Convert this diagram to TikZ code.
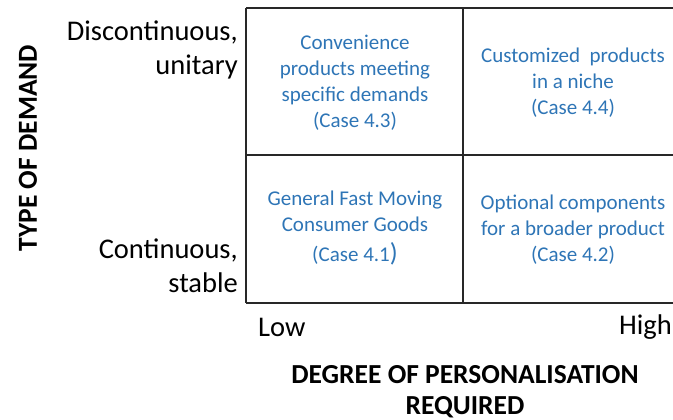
\documentclass[tikz,border=0pt]{standalone}
\usepackage{fontspec}
\setmainfont{Carlito}
\definecolor{cellblue}{RGB}{46,117,182}
\definecolor{gridline}{RGB}{40,40,40}
\begin{document}
\begin{tikzpicture}[x=1pt,y=-1pt,
  cell/.style={text=cellblue, font=\fontsize{21}{26}\selectfont, align=center, inner sep=0pt},
  side/.style={font=\fontsize{28.5}{34}\selectfont, align=right, inner sep=0pt},
  axis/.style={font=\bfseries\fontsize{27.5}{31}\selectfont, align=center, inner sep=0pt},
  gridl/.style={line width=1.5pt, draw=gridline}]
\useasboundingbox (0,0) rectangle (673,420);
\coordinate (a1) at (246,8);   \coordinate (a2) at (463,8);   \coordinate (a3) at (673,8);
\coordinate (b1) at (246,155); \coordinate (b2) at (463,155); \coordinate (b3) at (673,155);
\coordinate (c1) at (246,303); \coordinate (c2) at (463,303); \coordinate (c3) at (673,303);
\draw[gridl] (a1) -- (a3);
\draw[gridl] (b1) -- (b3);
\draw[gridl] (c1) -- (c3);
\draw[gridl] (a1) -- (c1);
\draw[gridl] (a2) -- (c2);
\node[cell] (q3) at (355,83) {Convenience\\products meeting\\specific demands\\(Case 4.3)};
\node[cell] (q4) at (573,83) {Customized\ \ products\\in a niche\\(Case 4.4)};
\node[cell] (q1) at (355,228) {General\ Fast Moving\\Consumer\ Goods\\[4pt](Case 4.1{\fontsize{26}{26}\selectfont )}};
\node[cell] (q2) at (573,230) {Optional components\\for a broader product\\(Case 4.2)};
\node[side, anchor=east] (disc) at (238,50) {Discontinuous,\\unitary};
\node[side, anchor=east] (cont) at (238,266) {Continuous,\\stable};
\node[font=\fontsize{28.5}{30}\selectfont, anchor=west, inner sep=0pt] (low) at (258,327) {Low};
\node[font=\fontsize{28.5}{30}\selectfont, anchor=east, inner sep=0pt] (high) at (672,327) {High};
\node[axis] (xax) at (465,392) {DEGREE OF PERSONALISATION\\REQUIRED};
\node[axis, rotate=90] (yax) at (28,148) {TYPE OF DEMAND};
\end{tikzpicture}
\end{document}
